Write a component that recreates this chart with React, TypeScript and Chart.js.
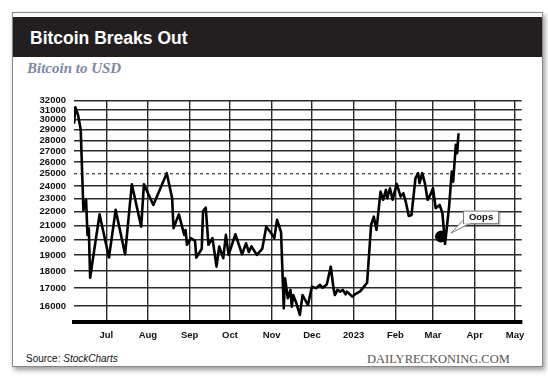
import React, { useEffect, useRef } from "react";
import { Chart, registerables } from "chart.js";

Chart.register(...registerables);

// ---------- data ----------
const dates = [
  "2022-06-07", "2022-06-08", "2022-06-10", "2022-06-12", "2022-06-14", "2022-06-16", "2022-06-17",
  "2022-06-18", "2022-06-19", "2022-06-26", "2022-07-03", "2022-07-08", "2022-07-15", "2022-07-20",
  "2022-07-27", "2022-07-29", "2022-08-05", "2022-08-15", "2022-08-19", "2022-08-20", "2022-08-24",
  "2022-08-28", "2022-08-29", "2022-08-30", "2022-09-02", "2022-09-05", "2022-09-06", "2022-09-10",
  "2022-09-11", "2022-09-13", "2022-09-15", "2022-09-18", "2022-09-21", "2022-09-23", "2022-09-26",
  "2022-09-28", "2022-09-30", "2022-10-05", "2022-10-10", "2022-10-13", "2022-10-15", "2022-10-17",
  "2022-10-21", "2022-10-25", "2022-10-28", "2022-10-31", "2022-11-03", "2022-11-05", "2022-11-08",
  "2022-11-10", "2022-11-11", "2022-11-13", "2022-11-15", "2022-11-16", "2022-11-17", "2022-11-19",
  "2022-11-22", "2022-11-24", "2022-11-28", "2022-12-01", "2022-12-04", "2022-12-07", "2022-12-09",
  "2022-12-12", "2022-12-15", "2022-12-17", "2022-12-18", "2022-12-20", "2022-12-22", "2022-12-24",
  "2022-12-26", "2022-12-27", "2022-12-31", "2023-01-02", "2023-01-06", "2023-01-11", "2023-01-14",
  "2023-01-16", "2023-01-18", "2023-01-21", "2023-01-23", "2023-01-25", "2023-01-26", "2023-01-28",
  "2023-01-30", "2023-02-02", "2023-02-05", "2023-02-07", "2023-02-09", "2023-02-11", "2023-02-13",
  "2023-02-16", "2023-02-18", "2023-02-19", "2023-02-21", "2023-02-23", "2023-02-25", "2023-02-27",
  "2023-03-01", "2023-03-03", "2023-03-06", "2023-03-08", "2023-03-10", "2023-03-13", "2023-03-15",
  "2023-03-16", "2023-03-18", "2023-03-19", "2023-03-20",
];

const prices = [
  29600, 31300, 30500, 29000, 22100, 22900, 20340,
  20800, 17600, 21800, 18840, 22130, 19050, 24130,
  20910, 24130, 22500, 25050, 23020, 20800, 21800,
  20340, 20680, 19670, 20110, 19930, 18840, 19400,
  22050, 22300, 19670, 20120, 18270, 19560, 18800,
  20340, 19010, 20380, 19050, 19770, 19200, 19560,
  19010, 19400, 20910, 20540, 20120, 21400, 20540,
  15875, 17570, 16420, 16890, 15960, 16600, 16230,
  15520, 16600, 16050, 17080, 16990, 17180, 17010,
  17200, 18270, 16990, 16600, 16890, 16790, 16890,
  16640, 16790, 16510, 16640, 16820, 17300, 21040,
  21630, 20680, 23540, 22900, 23680, 23020, 23810,
  22900, 24160, 23150, 23410, 22640, 21680, 21750,
  24630, 25050, 24220, 25050, 24220, 22900, 23280,
  23810, 22260, 22500, 21890, 19730, 22380, 25190,
  24350, 27570, 26800, 28670,
];

const monthTickDates = [
  "2022-07-01", "2022-08-01", "2022-09-01", "2022-10-01", "2022-11-01", "2022-12-01",
  "2023-01-01", "2023-02-01", "2023-03-01", "2023-04-01", "2023-05-01",
];
const monthTickLabels = ["Jul", "Aug", "Sep", "Oct", "Nov", "Dec", "2023", "Feb", "Mar", "Apr", "May"];

const priceTicks = [
  16000, 17000, 18000, 19000, 20000, 21000, 22000, 23000, 24000,
  25000, 26000, 27000, 28000, 29000, 30000, 31000, 32000,
];

const axisStartDate = "2022-06-07";
const axisEndDate = "2023-05-06";
const priceMin = 15170;
const priceMax = 32000;

const referenceLevel = 25000;

const oopsDates = ["2023-03-07"];
const oopsPrices = [20220];
const oopsLabels = ["Oops"];

// ---------- helpers ----------
const BASE = Date.UTC(2022, 6, 1);
function toDay(s: string): number {
  const [y, m, d] = s.split("-").map(Number);
  return (Date.UTC(y, m - 1, d) - BASE) / 86400000;
}

const FONT = "'Liberation Sans', Arial, Helvetica, sans-serif";
const SERIF = "'Liberation Serif', 'Times New Roman', serif";

const calloutPlugin = {
  id: "oopsCallout",
  afterDatasetsDraw(chart: any) {
    const meta = chart.getDatasetMeta(2);
    if (!meta || !meta.data || !meta.data[0]) return;
    const { x, y } = meta.data[0];
    const ctx = chart.ctx;
    const bx = x + 22;
    const by = y - 26;
    const bw = 36;
    const bh = 13.5;
    ctx.save();
    ctx.fillStyle = "rgba(0,0,0,0.25)";
    ctx.fillRect(bx + 1.5, by + 1.5, bw, bh);
    ctx.beginPath();
    ctx.moveTo(bx + 0.5, by + 9);
    ctx.lineTo(x + 10, y - 3.5);
    ctx.lineTo(bx + 6.5, by + bh - 0.5);
    ctx.closePath();
    ctx.fillStyle = "#fff";
    ctx.fill();
    ctx.strokeStyle = "#777";
    ctx.lineWidth = 1;
    ctx.stroke();
    ctx.fillStyle = "#fff";
    ctx.fillRect(bx, by, bw, bh);
    ctx.strokeStyle = "#777";
    ctx.strokeRect(bx + 0.5, by + 0.5, bw - 1, bh - 1);
    ctx.fillStyle = "#fff";
    ctx.fillRect(bx + 1, by + 8.5, 5.5, bh - 9);
    ctx.fillStyle = "#111";
    ctx.font = `bold 9.5px ${FONT}`;
    ctx.textAlign = "center";
    ctx.textBaseline = "middle";
    ctx.fillText(oopsLabels[0], bx + bw / 2, by + bh / 2 + 0.5);
    ctx.restore();
  },
};

function BitcoinChart() {
  const ref = useRef<HTMLCanvasElement | null>(null);
  useEffect(() => {
    if (!ref.current) return;
    const xMin = toDay(axisStartDate);
    const xMax = toDay(axisEndDate);
    const tickDays = monthTickDates.map(toDay);
    const chart = new Chart(ref.current, {
      type: "line",
      data: {
        datasets: [
          {
            data: dates.map((d, i) => ({ x: toDay(d), y: prices[i] })),
            borderColor: "#000",
            borderWidth: 2.6,
            pointRadius: 0,
            tension: 0,
            borderJoinStyle: "round",
            order: 1,
          },
          {
            data: [
              { x: xMin, y: referenceLevel },
              { x: xMax, y: referenceLevel },
            ],
            borderColor: "#111",
            borderWidth: 1,
            borderDash: [3, 3],
            pointRadius: 0,
            order: 2,
          },
          {
            data: oopsDates.map((d, i) => ({ x: toDay(d), y: oopsPrices[i] })),
            showLine: false,
            pointRadius: 6,
            pointBackgroundColor: "#000",
            pointBorderColor: "#000",
            pointBorderWidth: 0,
            order: 0,
          },
        ],
      },
      options: {
        animation: false,
        responsive: false,
        events: [],
        layout: { padding: { left: 0, right: 26.3, top: 100.7, bottom: 0 } },
        plugins: { legend: { display: false }, tooltip: { enabled: false } },
        scales: {
          x: {
            type: "linear",
            min: xMin,
            max: xMax,
            afterBuildTicks: (scale: any) => {
              scale.ticks = tickDays.map((v) => ({ value: v }));
            },
            afterFit: (scale: any) => {
              scale.height = 386 - 321.7;
            },
            ticks: {
              autoSkip: false,
              maxRotation: 0,
              padding: 8,
              color: "#111",
              font: { family: FONT, size: 9.5, weight: "bold" },
              callback: (_v: any, i: number) => monthTickLabels[i],
            },
            grid: { color: "#2a2a2a", lineWidth: 1.4, drawTicks: false },
            border: { display: true, color: "#000", width: 4 },
          },
          y: {
            type: "logarithmic",
            min: priceMin,
            max: priceMax,
            afterBuildTicks: (scale: any) => {
              scale.ticks = priceTicks.map((v) => ({ value: v }));
            },
            afterFit: (scale: any) => {
              scale.width = 74;
            },
            ticks: {
              autoSkip: false,
              padding: 8,
              color: "#111",
              font: { family: FONT, size: 9.5, weight: "bold" },
              callback: (v: any) => String(v),
            },
            grid: {
              drawTicks: false,
              lineWidth: 1.4,
              color: (c: any) => (c.tick && c.tick.value === referenceLevel ? "rgba(0,0,0,0)" : "#2a2a2a"),
            },
            border: { display: false },
          },
        },
      },
      plugins: [calloutPlugin],
    } as any);
    return () => chart.destroy();
  }, []);
  return (
    <canvas
      ref={ref}
      width={548}
      height={386}
      style={{ position: "absolute", left: 0, top: 0, width: 548, height: 386 }}
    />
  );
}

export default function App() {
  return (
    <div style={{ position: "absolute", left: 0, top: 0, width: 548, height: 386, background: "#fff", overflow: "hidden" }}>
      <div
        style={{
          position: "absolute",
          left: 12,
          top: 12,
          width: 531,
          height: 355,
          boxSizing: "border-box",
          border: "1px solid #888",
          background: "#fff",
          boxShadow: "2px 3px 5px rgba(0,0,0,0.4)",
        }}
      />
      <div style={{ position: "absolute", left: 13, top: 17, width: 529, height: 40, background: "#231f20" }} />
      <div
        style={{
          position: "absolute",
          left: 30,
          top: 30.2,
          fontFamily: FONT,
          fontWeight: "bold",
          fontSize: 17.5,
          lineHeight: 1,
          color: "#fff",
          whiteSpace: "nowrap",
        }}
      >
        Bitcoin Breaks Out
      </div>
      <div
        style={{
          position: "absolute",
          left: 27,
          top: 60.7,
          fontFamily: SERIF,
          fontWeight: "bold",
          fontStyle: "italic",
          fontSize: 15,
          lineHeight: 1,
          color: "#7d88a4",
          whiteSpace: "nowrap",
        }}
      >
        Bitcoin to USD
      </div>
      <div
        style={{
          position: "absolute",
          left: 26,
          top: 353.5,
          fontFamily: FONT,
          fontSize: 10,
          lineHeight: 1,
          color: "#111",
          whiteSpace: "nowrap",
        }}
      >
        Source: <span style={{ fontStyle: "italic" }}>StockCharts</span>
      </div>
      <div
        style={{
          position: "absolute",
          left: 367,
          top: 352.5,
          fontFamily: SERIF,
          fontSize: 12.5,
          lineHeight: 1,
          color: "#5a5550",
          whiteSpace: "nowrap",
        }}
      >
        DAILYRECKONING.COM
      </div>
      <BitcoinChart />
    </div>
  );
}
